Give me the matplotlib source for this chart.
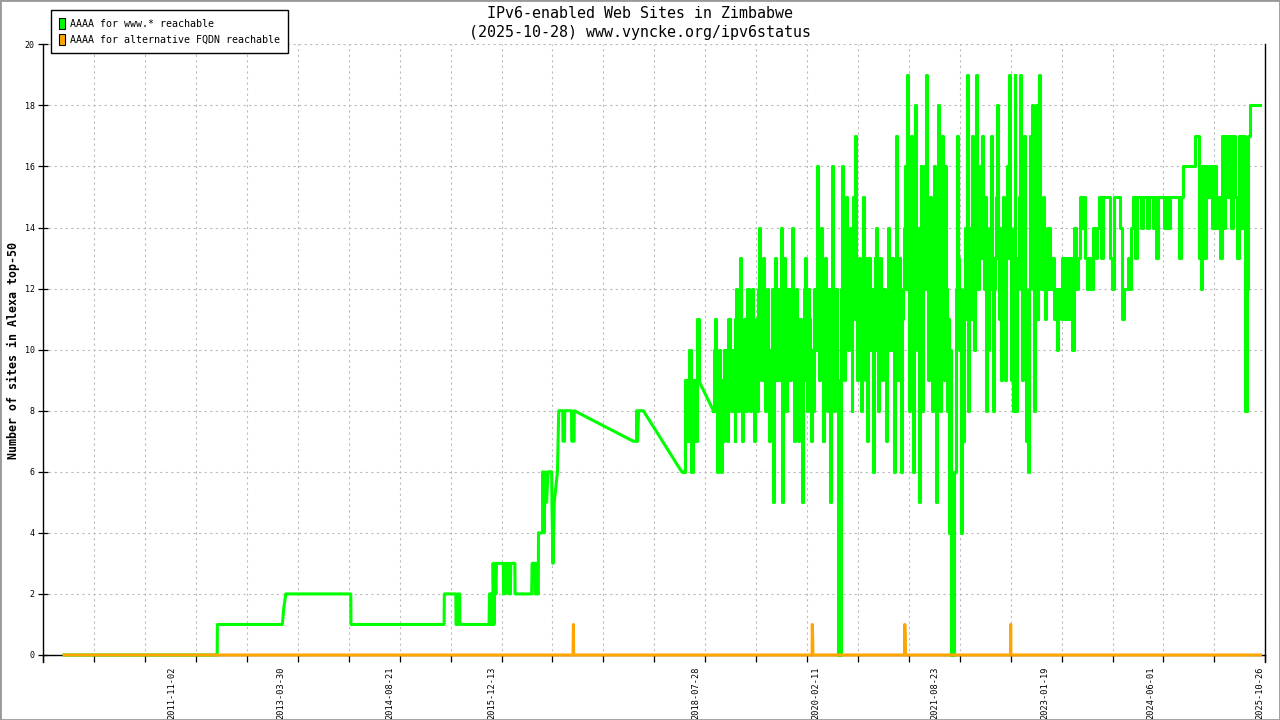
import numpy as np
import matplotlib
matplotlib.use("Agg")
import matplotlib.pyplot as plt
import matplotlib.dates as mdates
from matplotlib.patches import Patch, Rectangle

# ---------------- data ----------------
title_line1 = "IPv6-enabled Web Sites in Zimbabwe"
title_line2 = "(2025-10-28) www.vyncke.org/ipv6status"
y_label = "Number of sites in Alexa top-50"
series_names = ["AAAA for www.* reachable", "AAAA for alternative FQDN reachable"]

# early part of the www.* series (date, value)
www_early_dates = [
    '2010-06-15', '2012-06-02', '2012-06-03', '2013-04-04', '2013-04-10', '2013-04-20',
    '2014-02-19', '2014-02-20', '2015-05-03', '2015-05-04', '2015-06-27', '2015-06-28',
    '2015-07-06', '2015-07-07', '2015-07-15', '2015-07-16', '2015-11-30', '2015-12-02',
    '2015-12-06', '2015-12-07', '2015-12-11', '2015-12-13', '2015-12-18', '2015-12-19',
    '2015-12-23', '2015-12-27', '2016-01-01', '2016-01-04', '2016-02-05', '2016-02-06',
    '2016-02-10', '2016-02-14', '2016-02-17', '2016-02-29', '2016-03-01', '2016-03-05',
    '2016-03-09', '2016-03-11', '2016-03-30', '2016-03-31', '2016-06-17', '2016-06-19',
    '2016-07-02', '2016-07-03', '2016-07-10', '2016-07-11', '2016-07-15', '2016-07-18',
    '2016-07-19', '2016-08-07', '2016-08-08', '2016-08-14', '2016-08-20', '2016-08-26',
    '2016-09-02', '2016-09-19', '2016-09-20', '2016-09-25', '2016-10-01', '2016-10-16',
    '2016-10-22', '2016-11-10', '2016-11-11', '2016-11-18', '2016-11-19', '2016-12-21',
    '2016-12-22', '2017-01-02', '2017-01-03', '2017-10-07', '2017-10-22', '2017-10-23',
    '2017-10-27', '2017-11-01', '2017-11-23', '2018-05-22']
www_early_vals = [
    0, 0, 1, 1, 1.5, 2,
    2, 1, 1, 2, 2, 1,
    1, 2, 2, 1, 1, 2,
    2, 1, 2, 1, 1, 3,
    1, 3, 2, 3, 3, 2,
    3, 2, 3, 3, 2, 3,
    2, 3, 3, 2, 2, 3,
    3, 2, 2, 3, 2, 2,
    4, 4, 6, 4, 6, 5,
    6, 6, 5, 3, 5, 6,
    8, 8, 7, 7, 8, 8,
    7, 7, 8, 7, 7, 8,
    7, 8, 8, 6]

# dense parts
seg1_step_hours = 216          # 9 days
www_seg1_start = '2018-05-29'
www_seg1_vals = [6, 9, 7, 10, 6, 9, 7, 11, 9]

seg2a_step_hours = 108         # 4.5 days
www_seg2a_start = '2018-10-18'
www_seg2a_vals = [
    8, 10, 11, 8, 6, 9, 10, 7, 6, 9,        7, 10, 10, 8, 7, 11, 11, 9, 8, 10,
    10, 8, 7, 11, 12, 9, 8, 11, 13, 10,     7, 10, 11, 9, 8, 12, 12, 9, 8, 11,
    12, 9, 7, 10, 11, 8, 8, 12, 14, 10,     9, 12, 13, 9, 8, 11, 12, 9, 7, 10,
    10, 12, 5, 9, 13, 10, 9, 12, 12, 9,     14, 10, 5, 11, 13, 9, 8, 12, 12, 9,
    9, 12, 14, 10, 7, 11, 12, 9, 7, 11,     11, 9, 5, 10, 12, 9, 13, 10, 8, 12,
    11, 9, 7, 10, 8, 12, 12, 10, 16, 11,    9, 12, 14, 10, 7, 11, 13, 10, 8, 12,
    10, 12, 5, 11, 16, 10, 8, 12, 12, 9,    0, 0, 0, 12, 16, 11, 9, 13, 15, 11,
    10, 13, 14, 11, 8, 12, 15, 11, 17, 12,  9, 12, 13, 10, 8, 11, 15, 12, 9, 13,
    7, 11, 13, 10, 10, 12, 6, 11, 13, 10,   14, 11, 8, 12, 13, 10, 9, 12, 12, 10,
    7, 11, 14, 10, 10, 13, 13, 10, 6, 11,   17, 12, 9, 13, 13, 10, 6, 11, 12, 14,
    16, 12, 19, 13, 8, 14, 17, 11, 6, 12,   18, 13, 10, 14, 5, 12, 16, 11, 8, 13,
    16, 12, 19, 13, 9, 14, 15, 11, 8, 13,   16, 12, 5, 13, 18, 12, 8, 14, 17, 12,
    9, 13, 16, 12, 8, 11, 4, 10, 0, 0,      0, 6, 6, 12, 17, 13, 10, 12, 4, 9,
    7, 12, 14, 11, 19, 13, 8, 14, 13, 11,   17, 13, 10, 14, 19, 12, 12, 15, 16, 13,
    17, 13, 12, 15, 8, 13, 10, 14, 14, 12,  17, 13, 8, 12, 13, 15, 18, 13, 11, 14,
    9, 13, 15, 12, 9, 14, 16, 13, 19, 14,   9, 13, 8, 14, 19, 12, 8, 13, 12, 15,
    19, 13, 9, 14, 17, 12, 7, 11, 6, 12,    17, 13, 18, 12, 8, 13, 18, 14, 11, 13,
    19, 13, 12, 14, 15, 12, 11, 13, 14, 12, 14, 12, 12, 13, 13, 11, 11, 12, 10, 12]

seg2b_step_hours = 216         # 9 days, continues right after seg2a
www_seg2b_vals = [
    12, 11, 13, 11, 13, 11, 13, 10, 14, 12, 13, 15, 14, 15, 13, 12, 13, 12, 14, 13,
    14, 15, 13, 15, 15, 15, 15, 13, 12, 15, 15, 15, 14, 11, 12, 12, 13, 12, 14, 15,
    13, 15, 15, 14, 15, 15, 14, 15, 15, 14, 15, 13, 15, 15, 15, 14, 15, 14, 15, 15,
    15, 15, 15, 13, 15, 16, 16, 16, 16, 16, 16, 17, 17, 13, 12, 16, 13, 16, 15, 16,
    14, 16, 14, 15, 13, 17, 14, 17, 15, 17, 14, 17, 15, 13, 17, 14, 17, 8, 12, 17,
    18, 18, 18, 18, 18]
www_last_date = '2025-10-28'
www_last_val = 18

# alternative FQDN series
alt_dates = ['2010-06-15', '2016-12-28', '2016-12-29', '2016-12-30', '2016-12-31',
             '2020-01-24', '2020-01-25', '2020-01-27', '2020-01-28',
             '2021-04-02', '2021-04-03', '2021-04-05', '2021-04-06',
             '2022-08-12', '2022-08-13', '2022-08-14', '2025-10-28']
alt_vals = [0, 0, 0.5, 1, 0,
            0, 1, 0.5, 0,
            0, 1, 0.5, 0,
            0, 1, 0, 0]

x_label_dates = ['2011-11-02', '2013-03-30', '2014-08-21', '2015-12-13', '2018-07-28',
                 '2020-02-11', '2021-08-23', '2023-01-19', '2024-06-01', '2025-10-26']
x_range = ['2010-03-09', '2025-11-20']
y_ticks = list(range(0, 21, 2))

# ---------------- build series ----------------
def hours(h):
    return np.timedelta64(h, 'h')

early_x = np.array(www_early_dates, dtype='datetime64[h]')
seg1_x = np.datetime64(www_seg1_start, 'h') + np.arange(len(www_seg1_vals)) * hours(seg1_step_hours)
seg2a_x = np.datetime64(www_seg2a_start, 'h') + np.arange(len(www_seg2a_vals)) * hours(seg2a_step_hours)
seg2b_start = seg2a_x[-1] + hours(seg2a_step_hours)
seg2b_x = seg2b_start + np.arange(len(www_seg2b_vals)) * hours(seg2b_step_hours)
seg2_x = np.concatenate([seg2a_x, seg2b_x, np.array([www_last_date], dtype='datetime64[h]')])
seg2_y = list(www_seg2a_vals) + list(www_seg2b_vals) + [www_last_val]
alt_x = np.array(alt_dates, dtype='datetime64[h]')

# ---------------- figure ----------------
MONO = ['DejaVu Sans Mono']
plt.rcParams['font.family'] = MONO
GREEN = '#00ff00'
ORANGE = '#ffa500'
LW = 2.2

fig = plt.figure(figsize=(12.8, 7.2), dpi=100)
fig.patch.set_facecolor('white')
ax = fig.add_axes([43.3 / 1280, 58.3 / 720, (1265.3 - 43.3) / 1280, (661.7 - 44.3) / 720])

# www.* series: early part (straight joins over gaps), dense parts as steps
ax.plot(np.concatenate([early_x, seg1_x[:1]]), list(www_early_vals) + [www_seg1_vals[0]],
        color=GREEN, lw=LW, zorder=3)
ax.plot(seg1_x, www_seg1_vals, color=GREEN, lw=LW, drawstyle='steps-post', zorder=3)
ax.plot([seg1_x[-1], seg2_x[0]], [www_seg1_vals[-1], seg2_y[0]],
        color=GREEN, lw=LW, zorder=3)
ax.plot(seg2_x, seg2_y, color=GREEN, lw=LW, drawstyle='steps-post', zorder=3)

# alternative FQDN series
ax.plot(alt_x, alt_vals, color=ORANGE, lw=LW, zorder=4)

xmin = mdates.date2num(np.datetime64(x_range[0]))
xmax = mdates.date2num(np.datetime64(x_range[1]))
ax.set_xlim(xmin, xmax)
ax.set_ylim(-0.22, 20)

# spines
ax.spines['top'].set_visible(False)
ax.spines['bottom'].set_position(('data', 0))
for s in ['left', 'right', 'bottom']:
    ax.spines[s].set_color('black')
    ax.spines[s].set_linewidth(1.0)

# y ticks
ax.set_yticks(y_ticks)
ax.set_yticklabels([str(v) for v in y_ticks])
ax.tick_params(axis='y', which='major', direction='inout', length=6.5, width=0.9,
               labelsize=6, pad=3, right=False)

# x ticks: regular minor ticks with grid, labels at given dates
ax.set_xticks(np.linspace(xmin, xmax, 25), minor=True)
ax.set_xticks([mdates.date2num(np.datetime64(d)) for d in x_label_dates])
ax.set_xticklabels(x_label_dates, rotation=90, fontsize=6.2)
for lab in ax.get_xticklabels():
    lab.set_ha('center')
    lab.set_va('top')
ax.tick_params(axis='x', which='major', length=0, pad=8.2)
ax.tick_params(axis='x', which='minor', direction='out', length=5, width=0.9)

# grid
ax.grid(False)
ax.grid(which='minor', axis='x', color='#bbbbbb', linestyle=(0, (2, 3)), linewidth=0.8)
ax.grid(which='major', axis='y', color='#bbbbbb', linestyle=(0, (2, 3)), linewidth=0.8)
ax.set_axisbelow(True)

# legend
handles = [Patch(facecolor=GREEN, edgecolor='black', linewidth=0.8),
           Patch(facecolor=ORANGE, edgecolor='black', linewidth=0.8)]
leg = fig.legend(handles, series_names, loc='upper left',
                 bbox_to_anchor=(51 / 1280, 1 - 10 / 720), borderaxespad=0,
                 prop={'family': MONO, 'size': 7.2}, handlelength=0.6, handleheight=1.3,
                 handletextpad=0.5, labelspacing=0.55, borderpad=0.8,
                 fancybox=False, shadow=False, framealpha=1, edgecolor='black')
leg.get_frame().set_linewidth(1.0)

# titles
fig.text(0.5, 1 - 13 / 720, title_line1, ha='center', va='center', fontsize=10.8,
         family=MONO)
fig.text(0.5, 1 - 32 / 720, title_line2, ha='center', va='center', fontsize=10.8,
         family=MONO)
fig.text(13 / 1280, 1 - 350 / 720, y_label, rotation=90, ha='center', va='center',
         fontsize=8.4, fontweight='bold', family=MONO)

# outer border
fig.add_artist(Rectangle((0, 0), 1, 1, transform=fig.transFigure, fill=False,
                         edgecolor='#999999', linewidth=2.0))

fig.savefig('out.png', dpi=100, facecolor='white')
